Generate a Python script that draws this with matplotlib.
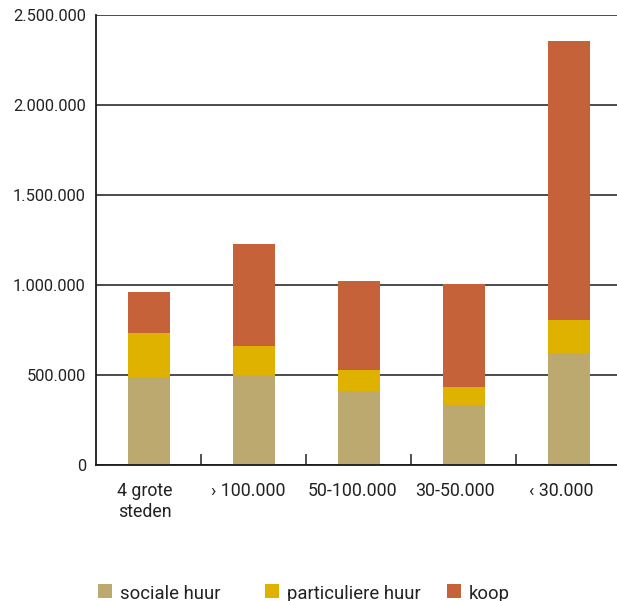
import matplotlib
matplotlib.use("Agg")
import matplotlib.pyplot as plt
from matplotlib.patches import Rectangle
from matplotlib.transforms import ScaledTranslation
from matplotlib.ticker import FuncFormatter, MultipleLocator, FixedLocator

# Woningvoorraad naar eigendom en gemeentegrootte
categories = ["4 grote\nsteden", "\u203a 100.000", "50-100.000", "30-50.000", "\u2039 30.000"]
sociale_huur = [490000, 500000, 411000, 333000, 622000]
particuliere_huur = [243000, 161000, 117000, 100000, 184000]
koop = [228000, 567000, 494000, 573000, 1550000]
series_labels = ["sociale huur", "particuliere huur", "koop"]
colors = ["#BBA96F", "#E0B200", "#C5623A"]

plt.rcParams["font.family"] = ["Roboto", "DejaVu Sans"]

W, H = 617, 601
fig = plt.figure(figsize=(W / 100, H / 100), dpi=100)
ax = fig.add_axes([96 / W, (H - 465) / H, 525 / W, 450 / H])

x = list(range(len(categories)))
bottom = [0] * len(categories)
for vals, col in zip([sociale_huur, particuliere_huur, koop], colors):
    ax.bar(x, vals, width=0.4, bottom=bottom, color=col, zorder=3, linewidth=0)
    bottom = [b + v for b, v in zip(bottom, vals)]

ax.set_xlim(-0.5, 4.5)
ax.set_ylim(0, 2500000)

ax.yaxis.set_major_locator(MultipleLocator(500000))
ax.yaxis.set_major_formatter(FuncFormatter(lambda v, p: f"{int(v):,}".replace(",", ".")))
ax.tick_params(axis="y", length=0, pad=7.3, labelsize=11.8, labelcolor="#222222")
ax.grid(axis="y", color="#1a1a1a", linewidth=1.1, zorder=1)

ax.set_xticks(x)
ax.set_xticklabels(categories, fontsize=12.8, color="#222222", linespacing=1.25, va="top")
ax.tick_params(axis="x", which="major", length=0, pad=12)
ax.xaxis.set_minor_locator(FixedLocator([0.5, 1.5, 2.5, 3.5]))
ax.tick_params(axis="x", which="minor", direction="in", length=8, width=1.1, color="#222222")

# category labels sit slightly left of the bar centres
label_shift_px = [-4, -5, -6, -9, -7]
for lbl, dx in zip(ax.get_xticklabels(), label_shift_px):
    lbl.set_transform(lbl.get_transform() + ScaledTranslation(dx / 100, 0, fig.dpi_scale_trans))

for s in ["top", "right"]:
    ax.spines[s].set_visible(False)
for s in ["left", "bottom"]:
    ax.spines[s].set_color("#1a1a1a")
    ax.spines[s].set_linewidth(1.3)
    ax.spines[s].set_zorder(4)

# legend along the bottom edge
legend_x = [98, 265, 447]
for lx, lab, col in zip(legend_x, series_labels, colors):
    fig.add_artist(Rectangle((lx / W, (H - 598) / H), 14 / W, 14 / H,
                             transform=fig.transFigure, color=col, linewidth=0))
    fig.text((lx + 22) / W, (H - 599) / H, lab, fontsize=13.3, color="#222222",
             va="baseline", ha="left")

fig.savefig("out.png", dpi=100)
